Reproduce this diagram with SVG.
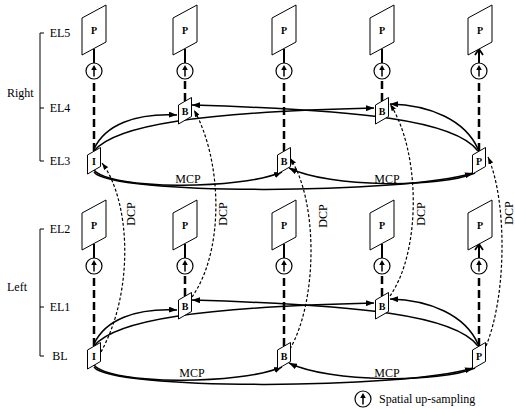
<svg xmlns="http://www.w3.org/2000/svg" width="515" height="409" viewBox="0 0 515 409">
<style>
.fr{fill:#fff;stroke:#000;stroke-width:1}
.lt{font-family:"Liberation Serif","Times New Roman",serif;font-weight:bold;font-size:10px;text-anchor:middle}
.lb{font-family:"Liberation Serif","Times New Roman",serif;font-size:12px}
.mid{text-anchor:middle}
.vd{stroke:#000;stroke-width:2.5;stroke-dasharray:8 4;fill:none}
.up{stroke:#000;stroke-width:2;fill:none;marker-end:url(#chev)}
.mc{stroke:#000;stroke-width:1.5;fill:none;marker-end:url(#ah)}
.dc{stroke:#000;stroke-width:1.2;stroke-dasharray:3 2;fill:none;marker-end:url(#ahs)}
.br{stroke:#000;stroke-width:1;fill:none}
</style>
<defs>
<marker id="ah" markerUnits="userSpaceOnUse" markerWidth="8" markerHeight="6" refX="8" refY="3" orient="auto"><path d="M0,0 L8,3 L0,6 z" fill="#000"/></marker>
<marker id="ahs" markerUnits="userSpaceOnUse" markerWidth="7" markerHeight="5" refX="7" refY="2.5" orient="auto"><path d="M0,0 L7,2.5 L0,5 z" fill="#000"/></marker>
<marker id="chev" markerUnits="userSpaceOnUse" markerWidth="9" markerHeight="10" refX="7" refY="5" orient="auto"><path d="M1,1 L7,5 L1,9" fill="none" stroke="#000" stroke-width="1.8"/></marker>
<g id="usym"><circle r="8" fill="#fff" stroke="#000" stroke-width="1.2"/><line x1="0" y1="5.5" x2="0" y2="-1" stroke="#000" stroke-width="1.5"/><path d="M-2.8,-1 L0,-6 L2.8,-1 z" fill="#000"/></g>
<polygon id="frame" class="fr" points="-12,-12 12,-25 12,12 -12,25"/>
<polygon id="sn" class="fr" points="-6.5,-5 6.5,-12.5 6.5,6.5 -6.5,14"/>
</defs>

<g id="labels">
<path class="br" d="M44,33 H40 V161 H44 M40,108 H44"/>
<path class="br" d="M44,229 H40 V356 H44 M40,307 H44"/>
<text class="lb mid" x="60" y="37">EL5</text>
<text class="lb mid" x="60" y="112">EL4</text>
<text class="lb mid" x="60" y="165">EL3</text>
<text class="lb mid" x="60" y="233">EL2</text>
<text class="lb mid" x="60" y="311">EL1</text>
<text class="lb mid" x="60" y="360">BL</text>
<text class="lb" x="7" y="97">Right</text>
<text class="lb" x="7" y="291">Left</text>
</g>

<g id="connectors">
<path class="vd" d="M94,151 V79 M185,101 V79 M284,151 V79 M382,101 V79 M479,151 V79"/>
<path class="vd" d="M94,346 V274 M185,296 V274 M284,346 V274 M382,296 V274 M479,346 V274"/>
<path class="up" d="M94,63 V49 M185,63 V49 M284,63 V49 M382,63 V49 M479,63 V49"/>
<path class="up" d="M94,258 V244 M185,258 V244 M284,258 V244 M382,258 V244 M479,258 V244"/>
<path class="mc" d="M94,149 C105,125 135,113 177,115"/>
<path class="mc" d="M94,151 C115,125 200,112 374,108"/>
<path class="mc" d="M478,149 C465,120 430,105 390,104"/>
<path class="mc" d="M478,151 C455,120 360,110 192,105"/>
<path class="mc" d="M94,170 C110,190 240,190 282,172"/>
<path class="mc" d="M94,172 C110,195 400,195 473,173"/>
<path class="mc" d="M475,173 C440,188 330,188 289,168"/>
<path class="mc" d="M94,344 C105,320 135,308 177,310"/>
<path class="mc" d="M94,346 C115,320 200,307 374,303"/>
<path class="mc" d="M478,344 C465,315 430,300 390,299"/>
<path class="mc" d="M478,346 C455,315 360,305 192,300"/>
<path class="mc" d="M94,365 C110,385 240,385 282,367"/>
<path class="mc" d="M94,367 C110,390 400,390 473,368"/>
<path class="mc" d="M475,368 C440,383 330,383 289,363"/>
<path class="dc" d="M101,352 C135,290 130,200 102,163"/>
<path class="dc" d="M192,297 C225,250 222,160 194,110"/>
<path class="dc" d="M290,349 C318,300 318,200 290,158"/>
<path class="dc" d="M390,296 C422,250 420,150 390,104"/>
<path class="dc" d="M486,346 C507,295 507,200 488,157"/>
<text class="lb mid" x="188" y="183">MCP</text>
<text class="lb mid" x="387" y="183">MCP</text>
<text class="lb mid" x="192" y="377">MCP</text>
<text class="lb mid" x="387" y="377">MCP</text>
<text class="lb mid" transform="translate(135,214) rotate(-90)">DCP</text>
<text class="lb mid" transform="translate(227,214) rotate(-90)">DCP</text>
<text class="lb mid" transform="translate(327,216) rotate(-90)">DCP</text>
<text class="lb mid" transform="translate(425,214) rotate(-90)">DCP</text>
<text class="lb mid" transform="translate(513,213) rotate(-90)">DCP</text>
</g>

<g id="el5-1" transform="translate(94,30)"><use href="#frame"/><text class="lt" y="4">P</text></g>
<g id="el5-2" transform="translate(185,30)"><use href="#frame"/><text class="lt" y="4">P</text></g>
<g id="el5-3" transform="translate(284,30)"><use href="#frame"/><text class="lt" y="4">P</text></g>
<g id="el5-4" transform="translate(382,30)"><use href="#frame"/><text class="lt" y="4">P</text></g>
<g id="el5-5" transform="translate(480,30)"><use href="#frame"/><text class="lt" y="4">P</text></g>
<g id="us-r1"><use href="#usym" x="94" y="71"/></g>
<g id="us-r2"><use href="#usym" x="185" y="71"/></g>
<g id="us-r3"><use href="#usym" x="284" y="71"/></g>
<g id="us-r4"><use href="#usym" x="382" y="71"/></g>
<g id="us-r5"><use href="#usym" x="479" y="71"/></g>
<g id="el4-b2" transform="translate(185,110)"><use href="#sn"/><text class="lt" y="5">B</text></g>
<g id="el4-b4" transform="translate(382,110)"><use href="#sn"/><text class="lt" y="5">B</text></g>
<g id="el3-i" transform="translate(94,160)"><use href="#sn"/><text class="lt" y="5">I</text></g>
<g id="el3-b3" transform="translate(284,160)"><use href="#sn"/><text class="lt" y="5">B</text></g>
<g id="el3-p" transform="translate(479,160)"><use href="#sn"/><text class="lt" y="5">P</text></g>
<g id="el2-1" transform="translate(94,225)"><use href="#frame"/><text class="lt" y="4">P</text></g>
<g id="el2-2" transform="translate(185,225)"><use href="#frame"/><text class="lt" y="4">P</text></g>
<g id="el2-3" transform="translate(284,225)"><use href="#frame"/><text class="lt" y="4">P</text></g>
<g id="el2-4" transform="translate(382,225)"><use href="#frame"/><text class="lt" y="4">P</text></g>
<g id="el2-5" transform="translate(480,225)"><use href="#frame"/><text class="lt" y="4">P</text></g>
<g id="us-l1"><use href="#usym" x="94" y="266"/></g>
<g id="us-l2"><use href="#usym" x="185" y="266"/></g>
<g id="us-l3"><use href="#usym" x="284" y="266"/></g>
<g id="us-l4"><use href="#usym" x="382" y="266"/></g>
<g id="us-l5"><use href="#usym" x="479" y="266"/></g>
<g id="el1-b2" transform="translate(185,305)"><use href="#sn"/><text class="lt" y="5">B</text></g>
<g id="el1-b4" transform="translate(382,305)"><use href="#sn"/><text class="lt" y="5">B</text></g>
<g id="bl-i" transform="translate(94,355)"><use href="#sn"/><text class="lt" y="5">I</text></g>
<g id="bl-b3" transform="translate(284,355)"><use href="#sn"/><text class="lt" y="5">B</text></g>
<g id="bl-p" transform="translate(479,355)"><use href="#sn"/><text class="lt" y="5">P</text></g>

<g id="legend">
<use href="#usym" x="363" y="399"/>
<text class="lb" x="379" y="403">Spatial up-sampling</text>
</g>
</svg>
